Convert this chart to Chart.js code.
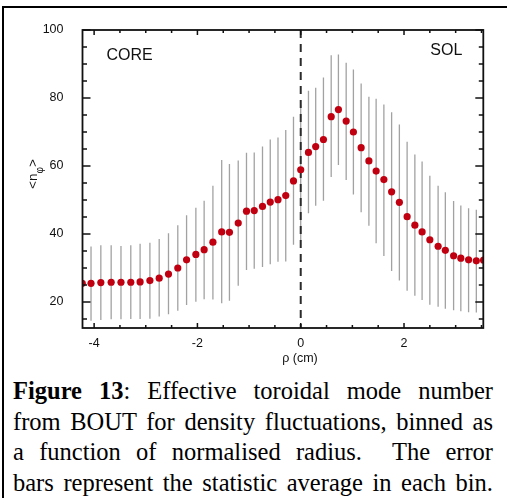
<!DOCTYPE html>
<html>
<head>
<meta charset="utf-8">
<script src="https://cdn.jsdelivr.net/npm/chart.js@4"></script>
<style>
  body { margin: 0; background: #fff; }
  #wrap { position: relative; width: 507px; height: 498px; overflow: hidden; }
  #frame { position: absolute; left: 2px; top: 6px; right: 0; bottom: 0;
           border-top: 2px solid #000; border-left: 2px solid #000; }
  #c { position: absolute; left: 0; top: 0; }
  #caption { position: absolute; left: 13px; top: 376px; width: 480px;
             font-family: 'Liberation Serif', 'Times New Roman', serif;
             font-size: 24.5px; line-height: 30.5px; color: #000; }
  #caption div { text-align: justify; text-align-last: justify; white-space: nowrap; }
</style>
</head>
<body>
<div id="wrap">
  <div id="frame"></div>
  <canvas id="c" width="507" height="375"></canvas>
  <div id="caption">
    <div><b>Figure 13</b>: Effective toroidal mode number</div>
    <div>from BOUT for density fluctuations, binned as</div>
    <div>a function of normalised radius.&nbsp; The error</div>
    <div>bars represent the statistic average in each bin.</div>
  </div>
</div>
<script>
// radius (cm) of each bin
const rho = [-4.23, -4.06, -3.87, -3.67, -3.48, -3.29, -3.11, -2.92, -2.74, -2.56,
  -2.38, -2.21, -2.03, -1.87, -1.70, -1.53, -1.38, -1.21, -1.05, -0.90,
  -0.74, -0.59, -0.44, -0.29, -0.14, 0.00, 0.15, 0.29, 0.44, 0.59,
  0.73, 0.88, 1.02, 1.17, 1.32, 1.46, 1.61, 1.76, 1.91, 2.06,
  2.21, 2.35, 2.50, 2.66, 2.80, 2.96, 3.10, 3.25, 3.40, 3.54];

// mean <n_phi> in each bin
const nphi = [25.5, 25.5, 25.7, 25.8, 25.8, 25.8, 25.9, 26.3, 27.0, 28.2,
  30.0, 32.4, 34.0, 35.4, 37.6, 40.6, 40.5, 43.2, 46.7, 46.9,
  48.1, 49.4, 50.1, 51.3, 55.6, 58.9, 64.0, 65.7, 67.8, 74.5,
  76.6, 73.2, 70.0, 65.4, 61.5, 58.5, 56.0, 52.4, 49.3, 45.1,
  42.6, 40.6, 38.3, 36.4, 35.2, 33.6, 32.9, 32.4, 32.1, 32.3];

// error bar ends
const errHigh = [36.0, 36.3, 36.7, 36.7, 36.5, 36.7, 37.1, 37.4, 38.5, 40.2,
  42.6, 45.5, 47.7, 49.8, 54.2, 61.8, 60.6, 61.6, 63.9, 64.0,
  65.7, 67.8, 68.4, 70.6, 74.5, 78.0, 82.1, 83.0, 86.0, 92.6,
  92.8, 90.4, 88.4, 84.3, 80.4, 79.8, 78.1, 75.8, 72.2, 67.1,
  63.4, 61.3, 57.1, 54.2, 52.3, 49.7, 48.4, 47.6, 47.1, 47.0];
const errLow = [14.5, 14.5, 14.7, 14.9, 14.9, 15.0, 15.0, 15.1, 15.7, 16.4,
  17.4, 19.1, 20.1, 20.8, 20.7, 19.6, 20.4, 24.8, 29.4, 29.8,
  30.3, 31.1, 31.8, 31.9, 36.8, 38.0, 46.1, 48.3, 49.8, 56.8,
  60.3, 55.9, 51.6, 46.4, 42.4, 37.3, 33.5, 29.1, 26.3, 23.3,
  21.8, 20.6, 19.2, 18.6, 18.0, 17.6, 17.3, 17.0, 16.9, 16.9];

const font = "'Liberation Sans', Arial, sans-serif";

const decor = {
  id: 'decor',
  beforeDatasetsDraw(chart) {
    const { ctx, chartArea: a, scales: { x, y } } = chart;
    ctx.save();
    ctx.beginPath();
    ctx.rect(a.left, a.top, a.right - a.left, a.bottom - a.top);
    ctx.clip();
    // error bars
    ctx.strokeStyle = '#a2a2a2';
    ctx.lineWidth = 1.3;
    rho.forEach((r, i) => {
      const px = x.getPixelForValue(r);
      ctx.beginPath();
      ctx.moveTo(px, y.getPixelForValue(errLow[i]));
      ctx.lineTo(px, y.getPixelForValue(errHigh[i]));
      ctx.stroke();
    });
    // separatrix
    const x0 = x.getPixelForValue(0);
    ctx.setLineDash([8, 6]);
    ctx.strokeStyle = '#2b2b2b';
    ctx.lineWidth = 2;
    ctx.beginPath();
    ctx.moveTo(x0, a.top);
    ctx.lineTo(x0, a.bottom);
    ctx.stroke();
    ctx.restore();
  },
  afterDraw(chart) {
    const { ctx, chartArea: a, scales: { x, y } } = chart;
    ctx.save();
    ctx.strokeStyle = '#111';
    ctx.lineWidth = 1.8;
    ctx.strokeRect(a.left, a.top, a.right - a.left, a.bottom - a.top);

    // inward ticks on all four sides
    ctx.lineWidth = 1.5;
    ctx.beginPath();
    x.ticks.forEach(t => {
      const px = x.getPixelForValue(t.value);
      const len = Math.abs(t.value % 2) < 1e-6 ? 5 : 3;
      ctx.moveTo(px, a.bottom); ctx.lineTo(px, a.bottom - len);
      ctx.moveTo(px, a.top); ctx.lineTo(px, a.top + len);
    });
    y.ticks.forEach(t => {
      const py = y.getPixelForValue(t.value);
      const len = Math.abs(t.value % 20) < 1e-6 ? 8 : 4.5;
      ctx.moveTo(a.left, py); ctx.lineTo(a.left + len, py);
      ctx.moveTo(a.right, py); ctx.lineTo(a.right - len, py);
    });
    ctx.stroke();

    // region labels
    ctx.fillStyle = '#111';
    ctx.font = '16px ' + font;
    ctx.textBaseline = 'middle';
    ctx.textAlign = 'left';
    ctx.fillText('CORE', a.left + 24, a.top + 26);
    ctx.fillText('SOL', a.right - 53, a.top + 21);

    // axis titles
    ctx.font = '12.5px ' + font;
    ctx.textAlign = 'center';
    ctx.fillText('\u03c1 (cm)', 300, a.bottom + 31);

    ctx.translate(33, 174);
    ctx.rotate(-Math.PI / 2);
    ctx.textAlign = 'left';
    ctx.textBaseline = 'alphabetic';
    const big = '13.5px ' + font, small = '10px ' + font;
    ctx.font = big;
    const w1 = ctx.measureText('<n').width, w3 = ctx.measureText('>').width;
    ctx.font = small;
    const w2 = ctx.measureText('\u03c6').width;
    let sx = -(w1 + w2 + w3) / 2;
    ctx.font = big;
    ctx.fillText('<n', sx, 4);
    ctx.font = small;
    ctx.fillText('\u03c6', sx + w1, 10);
    ctx.font = big;
    ctx.fillText('>', sx + w1 + w2, 4);
    ctx.restore();
  }
};

new Chart(document.getElementById('c'), {
  type: 'scatter',
  data: {
    datasets: [{
      data: rho.map((r, i) => ({ x: r, y: nphi[i] })),
      pointRadius: 3.6,
      pointBackgroundColor: '#c00010',
      pointBorderWidth: 0,
      clip: 0
    }]
  },
  options: {
    responsive: false,
    animation: false,
    events: [],
    layout: { padding: { left: 0, top: 30, right: 23.7, bottom: 0 } },
    plugins: { legend: { display: false }, tooltip: { enabled: false } },
    scales: {
      x: {
        type: 'linear',
        min: -4.225, max: 3.535,
        grid: { display: false, drawTicks: false },
        border: { display: false },
        ticks: {
          stepSize: 0.5, includeBounds: false, autoSkip: false, maxRotation: 0,
          padding: 8, color: '#111', font: { family: font, size: 12.5 },
          callback: v => Math.abs(v % 2) < 1e-6 ? String(Math.round(v)) : ''
        },
        afterFit: s => { s.height = 47; }
      },
      y: {
        min: 12.35, max: 100,
        grid: { display: false, drawTicks: false },
        border: { display: false },
        ticks: {
          stepSize: 5, includeBounds: false, autoSkip: false,
          padding: 19, color: '#111', font: { family: font, size: 12.5 },
          callback: v => Math.abs(v % 20) < 1e-6 ? String(v) : ''
        },
        afterFit: s => { s.width = 82.5; }
      }
    }
  },
  plugins: [decor]
});
</script>
</body>
</html>
